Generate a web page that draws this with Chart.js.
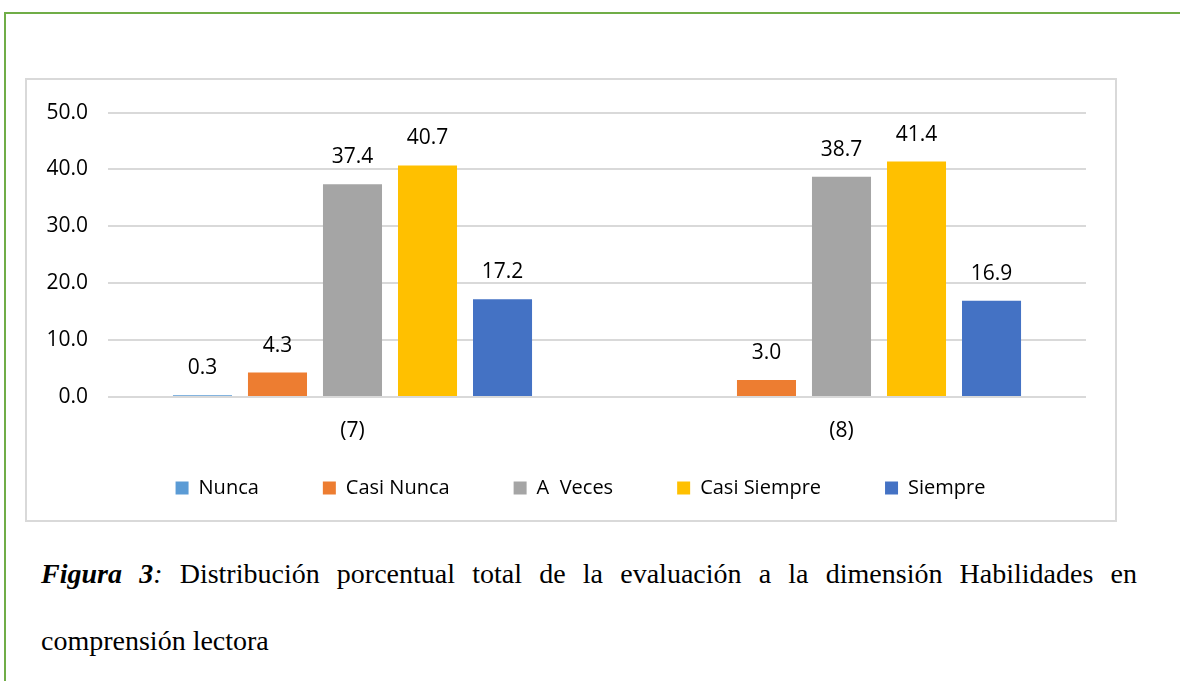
<!DOCTYPE html>
<html><head><meta charset="utf-8">
<script src="https://cdn.jsdelivr.net/npm/chart.js@4"></script>
<style>
html,body{margin:0;padding:0;background:#fff;width:1180px;height:681px;overflow:hidden;position:relative}
#frame{position:absolute;left:4px;top:12px;width:1300px;height:800px;border-left:2px solid #70AD47;border-top:2px solid #70AD47;}
#box{position:absolute;left:25px;top:78px;width:1092px;height:444px;box-sizing:border-box;border:2px solid #D9D9D9;}
#wrap{position:absolute;left:27px;top:80px;width:1088px;height:457px;}
.cap{position:absolute;left:41px;width:1096px;font-family:'Liberation Serif','Times New Roman',serif;font-size:28px;line-height:32px;color:#000;white-space:nowrap;}
#l1{top:558px;text-align:justify;text-align-last:justify;white-space:normal;}
#l2{top:625px;}
</style>
</head><body>
<div id="frame"></div>
<div id="box"></div>
<div id="wrap"><canvas id="c" width="1088" height="457"></canvas></div>
<div class="cap" id="l1"><b><i>Figura 3</i></b><i>:</i> Distribución porcentual total de la evaluación a la dimensión Habilidades en</div>
<div class="cap" id="l2">comprensión lectora</div>
<script>
const categories = ['(7)', '(8)'];
const seriesNames = ['Nunca', 'Casi Nunca', 'A  Veces', 'Casi Siempre', 'Siempre'];
const nunca = [0.3, null];
const casiNunca = [4.3, 3.0];
const aVeces = [37.4, 38.7];
const casiSiempre = [40.7, 41.4];
const siempre = [17.2, 16.9];
const yMin = 0, yMax = 50, yStep = 10;
const seriesColors = ['#5B9BD5', '#ED7D31', '#A5A5A5', '#FFC000', '#4472C4'];

const seriesValues = [nunca, casiNunca, aVeces, casiSiempre, siempre];
const FONT = '"Open Sans", "Noto Sans", sans-serif';
const TXT = '#000000';

const valueLabels = {
  id: 'valueLabels',
  afterDatasetsDraw(chart) {
    const ctx = chart.ctx;
    ctx.save();
    ctx.font = '21px ' + FONT;
    ctx.fillStyle = TXT;
    ctx.textAlign = 'center';
    ctx.textBaseline = 'middle';
    chart.data.datasets.forEach((ds, i) => {
      const meta = chart.getDatasetMeta(i);
      meta.data.forEach((bar, j) => {
        const v = ds.data[j];
        if (v == null) return;
        ctx.fillText(v.toFixed(1), bar.x, bar.y - 27);
      });
    });
    ctx.restore();
  }
};

const legendShift = {
  id: 'legendShift',
  afterLayout(chart) {
    const l = chart.legend;
    if (l) { l.left += 24; l.right += 24; l.top -= 29; l.bottom -= 29; }
  }
};

new Chart(document.getElementById('c'), {
  type: 'bar',
  data: {
    labels: categories,
    datasets: seriesNames.map((name, i) => ({
      label: name,
      data: seriesValues[i],
      backgroundColor: seriesColors[i],
      borderWidth: 0,
      categoryPercentage: 0.767,
      barPercentage: 0.787
    }))
  },
  options: {
    responsive: false,
    animation: false,
    devicePixelRatio: 1,
    layout: { padding: { left: 0, right: 29, top: 28, bottom: 0 } },
    plugins: {
      tooltip: { enabled: false },
      legend: {
        position: 'bottom',
        labels: {
          boxWidth: 13, boxHeight: 13, padding: 64,
          color: TXT,
          font: { family: FONT, size: 20 }
        }
      }
    },
    scales: {
      x: {
        grid: { display: false, drawTicks: false },
        border: { display: false },
        ticks: { color: TXT, font: { family: FONT, size: 21 }, padding: 21 },
        afterFit(s) { s.height = 46; }
      },
      y: {
        min: yMin, max: yMax,
        grid: { color: '#D9D9D9', lineWidth: 2, drawTicks: false },
        border: { display: false },
        ticks: {
          stepSize: yStep, padding: 20, color: TXT,
          font: { family: FONT, size: 21 },
          callback: v => Number(v).toFixed(1)
        },
        afterFit(s) { s.width = 81; }
      }
    }
  },
  plugins: [valueLabels, legendShift]
});
</script>
</body></html>
